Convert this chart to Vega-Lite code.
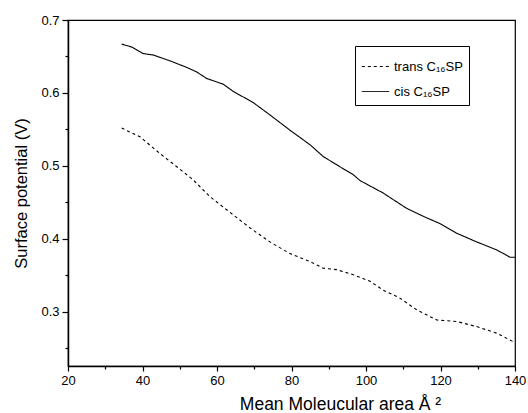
{
  "$schema": "https://vega.github.io/schema/vega-lite/v6.json",
  "autosize": "none",
  "width": 447,
  "height": 346,
  "padding": {"left": 68, "top": 20, "right": 13, "bottom": 47},
  "background": "white",
  "config": {
    "font": "Liberation Sans",
    "view": {"stroke": "black", "strokeWidth": 1.2},
    "axis": {"labelFont": "Liberation Sans", "titleFont": "Liberation Sans", "labelColor": "black", "titleColor": "black", "domainColor": "black", "tickColor": "black", "grid": false, "labelFontSize": 13, "titleFontSize": 16.5, "titleFontWeight": "normal", "domainWidth": 1.5, "tickWidth": 1.2}
  },
  "data": {
    "values": [
      {"area": 34.4, "v": 0.667, "s": "cis C₁₆SP"},
      {"area": 37.1, "v": 0.663, "s": "cis C₁₆SP"},
      {"area": 40.2, "v": 0.654, "s": "cis C₁₆SP"},
      {"area": 42.9, "v": 0.652, "s": "cis C₁₆SP"},
      {"area": 47.4, "v": 0.644, "s": "cis C₁₆SP"},
      {"area": 51.9, "v": 0.635, "s": "cis C₁₆SP"},
      {"area": 54.5, "v": 0.629, "s": "cis C₁₆SP"},
      {"area": 57.2, "v": 0.620, "s": "cis C₁₆SP"},
      {"area": 61.7, "v": 0.612, "s": "cis C₁₆SP"},
      {"area": 64.4, "v": 0.602, "s": "cis C₁₆SP"},
      {"area": 69.7, "v": 0.587, "s": "cis C₁₆SP"},
      {"area": 74.2, "v": 0.570, "s": "cis C₁₆SP"},
      {"area": 79.6, "v": 0.549, "s": "cis C₁₆SP"},
      {"area": 85.0, "v": 0.529, "s": "cis C₁₆SP"},
      {"area": 88.5, "v": 0.513, "s": "cis C₁₆SP"},
      {"area": 93.0, "v": 0.499, "s": "cis C₁₆SP"},
      {"area": 96.6, "v": 0.488, "s": "cis C₁₆SP"},
      {"area": 98.4, "v": 0.480, "s": "cis C₁₆SP"},
      {"area": 104.6, "v": 0.463, "s": "cis C₁₆SP"},
      {"area": 110.9, "v": 0.442, "s": "cis C₁₆SP"},
      {"area": 115.4, "v": 0.431, "s": "cis C₁₆SP"},
      {"area": 119.9, "v": 0.421, "s": "cis C₁₆SP"},
      {"area": 124.3, "v": 0.408, "s": "cis C₁₆SP"},
      {"area": 129.7, "v": 0.396, "s": "cis C₁₆SP"},
      {"area": 135.1, "v": 0.385, "s": "cis C₁₆SP"},
      {"area": 138.7, "v": 0.375, "s": "cis C₁₆SP"},
      {"area": 140.0, "v": 0.375, "s": "cis C₁₆SP"},
      {"area": 34.4, "v": 0.552, "s": "trans C₁₆SP"},
      {"area": 39.3, "v": 0.540, "s": "trans C₁₆SP"},
      {"area": 44.7, "v": 0.517, "s": "trans C₁₆SP"},
      {"area": 49.2, "v": 0.499, "s": "trans C₁₆SP"},
      {"area": 53.6, "v": 0.481, "s": "trans C₁₆SP"},
      {"area": 58.1, "v": 0.458, "s": "trans C₁₆SP"},
      {"area": 62.1, "v": 0.442, "s": "trans C₁₆SP"},
      {"area": 68.9, "v": 0.415, "s": "trans C₁₆SP"},
      {"area": 74.2, "v": 0.396, "s": "trans C₁₆SP"},
      {"area": 79.6, "v": 0.380, "s": "trans C₁₆SP"},
      {"area": 85.0, "v": 0.369, "s": "trans C₁₆SP"},
      {"area": 88.5, "v": 0.360, "s": "trans C₁₆SP"},
      {"area": 92.1, "v": 0.358, "s": "trans C₁₆SP"},
      {"area": 96.6, "v": 0.351, "s": "trans C₁₆SP"},
      {"area": 101.1, "v": 0.342, "s": "trans C₁₆SP"},
      {"area": 104.6, "v": 0.330, "s": "trans C₁₆SP"},
      {"area": 109.1, "v": 0.319, "s": "trans C₁₆SP"},
      {"area": 113.6, "v": 0.303, "s": "trans C₁₆SP"},
      {"area": 119.0, "v": 0.289, "s": "trans C₁₆SP"},
      {"area": 124.3, "v": 0.287, "s": "trans C₁₆SP"},
      {"area": 129.7, "v": 0.280, "s": "trans C₁₆SP"},
      {"area": 135.1, "v": 0.271, "s": "trans C₁₆SP"},
      {"area": 140.0, "v": 0.258, "s": "trans C₁₆SP"}
    ]
  },
  "mark": {"type": "line", "strokeWidth": 1.1, "clip": true},
  "encoding": {
    "x": {
      "field": "area", "type": "quantitative",
      "scale": {"domain": [20, 140], "nice": false, "zero": false},
      "axis": {
        "title": "Mean Moleucular area  Å ²",
        "titleFontSize": 17.5,
        "values": [20, 30, 40, 50, 60, 70, 80, 90, 100, 110, 120, 130, 140],
        "labelExpr": "datum.value % 20 === 0 ? datum.label : ''",
        "tickSize": {"condition": {"test": "datum.value % 20 === 0", "value": 5}, "value": 3},
        "labelPadding": 3,
        "titlePadding": 8,
        "titleX": 272,
        "labelFlush": false
      }
    },
    "y": {
      "field": "v", "type": "quantitative",
      "scale": {"domain": [0.226, 0.7], "nice": false, "zero": false},
      "axis": {
        "title": "Surface potential (V)",
        "values": [0.25, 0.3, 0.35, 0.4, 0.45, 0.5, 0.55, 0.6, 0.65, 0.7],
        "format": ".1f",
        "labelExpr": "abs(round(datum.value*10) - datum.value*10) < 0.001 ? datum.label : ''",
        "tickSize": {"condition": {"test": "abs(round(datum.value*10) - datum.value*10) < 0.001", "value": 6}, "value": 3},
        "labelPadding": 3,
        "titlePadding": 11,
        "labelFlush": false
      }
    },
    "color": {"value": "black"},
    "strokeDash": {
      "field": "s", "type": "nominal",
      "scale": {"domain": ["trans C₁₆SP", "cis C₁₆SP"], "range": [[3, 3], [1, 0]]},
      "legend": {
        "title": null,
        "orient": "none",
        "legendX": 287,
        "legendY": 26,
        "strokeColor": "black",
        "padding": 6,
        "symbolType": "stroke",
        "symbolSize": 750,
        "symbolStrokeColor": "black",
        "symbolStrokeWidth": 1,
        "labelFont": "Liberation Sans",
        "labelFontSize": 13,
        "labelColor": "black",
        "rowPadding": 3
      }
    }
  }
}
